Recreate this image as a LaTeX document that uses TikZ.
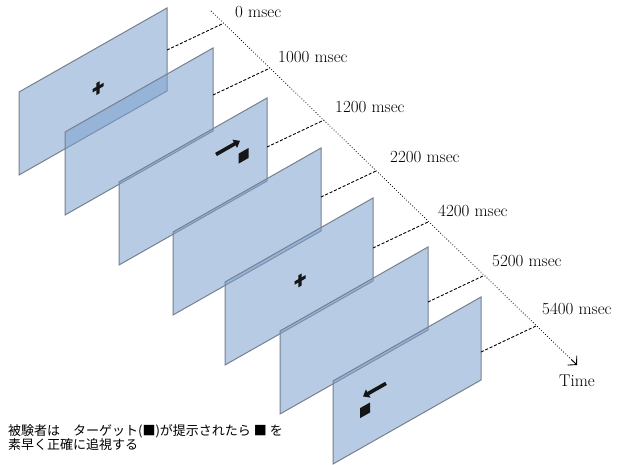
\documentclass[tikz,border=0pt]{standalone}
\usepackage{fontspec}
\newfontfamily\jpfont{Noto Sans CJK JP}
\usetikzlibrary{arrows.meta,positioning,calc}
\definecolor{panelblue}{HTML}{7A9FCD}
\definecolor{panelline}{HTML}{76808F}
\definecolor{inkblack}{HTML}{151515}

\begin{document}
\begin{tikzpicture}[
  x=1pt,y=-1pt,
  every node/.style={font=\fontsize{17}{20}\selectfont,inner sep=0pt},
  panel/.style={draw=panelline,line width=1pt,fill=panelblue,fill opacity=0.54},
  skew/.style={cm={1,0.5676,0,1,(0,0)}},
  guide/.style={dash pattern=on 3pt off 1.8pt,line width=0.9pt},
  timeaxis/.style={dotted,line width=0.8pt},
  timetip/.style={line width=0.9pt,-{Straight Barb[length=6pt,width=13pt]}},
  symarrow/.style={line width=3.6pt,draw=inkblack,-{Triangle[length=6pt,width=9pt]}},
  note/.style={font=\jpfont\fontsize{13}{14}\selectfont,align=left,anchor=north west}
]
\useasboundingbox (0,0) rectangle (624,464);

% stimulus screens, one per time step
\foreach \i/\xr/\yt/\dy in {1/167/8/42, 2/213/48/47, 3/267/98/49, 4/321/148/49, 5/373/198/50, 6/428/247/55, 7/481/297/55} {
  \draw[panel] (\xr-148,\yt+84) -- (\xr,\yt) -- (\xr,\yt+83) -- (\xr-148,\yt+167) -- cycle;
  \coordinate (c\i) at (\xr-74,\yt+83.5);
  \coordinate (e\i) at (\xr,\yt+\dy);
  \coordinate (f\i) at ($(e\i)+(55,-26)$);
}

% fixation crosses
\foreach \i/\dx in {1/5, 5/1} {
  \begin{scope}[shift={(c\i)},skew]
    \fill[inkblack] (\dx-5.5,-2.7) rectangle (\dx+5.5,0.7);
    \fill[inkblack] (\dx-1.7,-6.5) rectangle (\dx+1.7,5.5);
  \end{scope}
}

% cue arrow and target
\begin{scope}[shift={(c3)},skew]
  \draw[symarrow] (23,-14) -- (47,-14);
  \fill[inkblack] (45.5,-2) rectangle (55.5,8);
\end{scope}
\begin{scope}[shift={(c7)},skew]
  \draw[symarrow] (-21,-9) -- (-44,-9);
  \fill[inkblack] (-47,1) rectangle (-37,11);
\end{scope}

% time axis
\coordinate (t0) at (211,11);
\coordinate (t1) at (577,365);
\coordinate (tk) at ($(t0)!0.985!(t1)$);
\draw[timeaxis] (t0) -- (t1);
\draw[timetip] (tk) -- (t1);
\node[below=10pt of t1] (time) {Time};

\foreach \i/\lx/\ly/\lbl in {1/235/12/0 msec, 2/278/57/1000 msec, 3/335/107/1200 msec, 4/390/157/2200 msec, 5/438/211/4200 msec, 6/492/261/5200 msec, 7/542/309/5400 msec} {
  \coordinate (a\i) at (intersection cs: first line={(e\i)--(f\i)}, second line={(t0)--(t1)});
  \draw[guide] (e\i) -- (a\i);
  \node[anchor=west] (l\i) at (\lx,\ly) {\lbl};
}

\node[note] (task) at (8,424) {被験者は　ターゲット(■)が提示されたら ■ を\\素早く正確に追視する};
\end{tikzpicture}
\end{document}
